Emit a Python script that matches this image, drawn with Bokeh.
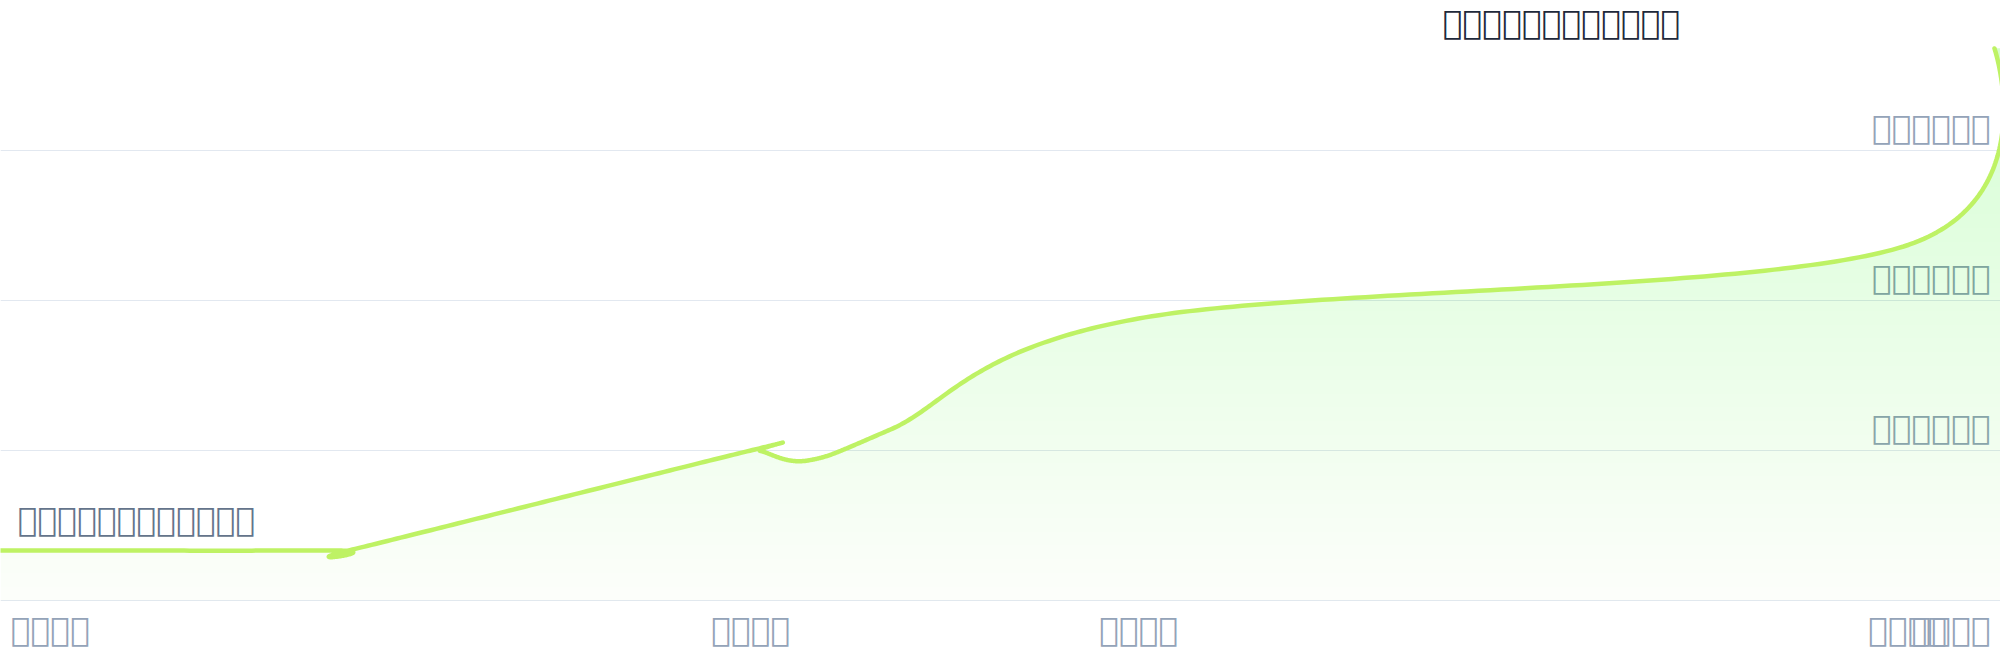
import numpy as np
from bokeh.plotting import figure
from bokeh.models import Range1d, Grid, FixedTicker
from bokeh.core.properties import value
from bokeh.embed import file_html
from bokeh.resources import INLINE

# ---------------- data ----------------
days = [0, 167.5, 176, 376, 380, 403.5, 445, 569, 951.5, 997]
values = [3.33, 3.33, 3.4, 10.03, 9.97, 9.33, 11.4, 18.8, 23.6, 36.8]

T = "\ue000"
x_tick_days = [0, 375, 569, 953.5, 997.5]
x_tick_labels = [T * 4, T * 4, T * 4, T * 4, T * 4]
y_ticks = [10, 20, 30]
y_tick_labels = [T * 6, T * 6, T * 6]
title_text = T * 12
note_text = T * 12

# ---------------- layout constants ----------------
W, H = 2000, 660
X0, X1 = 0, 1000
Y0, Y1 = -4, 40
PXX = W / (X1 - X0)
PXY = H / (Y1 - Y0)


def cardinal(xs, ys, n=80):
    """Cardinal spline (tension 0), as d3.curveCardinal draws it."""
    P = np.column_stack([xs, ys]).astype(float)
    k = 1.0 / 6.0
    m = len(P)
    out = [P[0]]
    for i in range(m - 1):
        p1, p2 = P[i], P[i + 1]
        c1 = p1.copy() if i == 0 else p1 + k * (p2 - P[i - 1])
        c2 = p2 + k * (p1 - P[i + 2]) if i + 2 < m else p2.copy()
        t = np.linspace(0, 1, n)[1:, None]
        seg = (1 - t) ** 3 * p1 + 3 * (1 - t) ** 2 * t * c1 + 3 * (1 - t) * t ** 2 * c2 + t ** 3 * p2
        out.extend(seg)
    out = np.array(out)
    return out[:, 0], out[:, 1]


cx, cy = cardinal(days, values)
# fill reaches the right edge of the plot
fx = np.append(cx, X1)
fy = np.append(cy, cy[-1])

p = figure(width=W, height=H, x_range=Range1d(X0, X1), y_range=Range1d(Y0, Y1),
           x_axis_type=None, y_axis_type=None, toolbar_location=None,
           output_backend="svg", min_border=0, outline_line_color=None,
           background_fill_color="white", border_fill_color="white")
p.grid.visible = False
p.add_layout(Grid(dimension=1, ticker=FixedTicker(ticks=[0] + y_ticks),
                  grid_line_color="#e2e8f0", grid_line_width=1.2))

FONT = value("DejaVu Sans")
FS = "33px"

# y tick labels (drawn beneath the area fill)
p.text(x=[X1 - 10 / PXX] * len(y_ticks), y=[v + 23 / PXY for v in y_ticks], text=y_tick_labels,
       text_align="right", text_baseline="alphabetic", text_font=FONT,
       text_font_size=FS, text_color="#94a3b8")

# vertical gradient area (stacked translucent bands)
fill = "#b5e86a"
N = 40
levels = np.linspace(0, max(values), N + 1)[:-1]
prev = 0.0
for lv in levels:
    target = 0.035 + 0.008 * lv
    a = 1 - (1 - target) / (1 - prev)
    prev = target
    p.varea(x=fx, y1=np.full_like(fx, lv), y2=np.maximum(fy, lv),
            fill_color=fill, fill_alpha=float(a))

p.line(cx, cy, line_color="#bef264", line_width=4.5, line_cap="round", line_join="round")

# x tick labels
aligns = ["left", "center", "center", "center", "right"]
for d, lab, al in zip(x_tick_days, x_tick_labels, aligns):
    if al == "left":
        xx = d + 10 / PXX
    elif al == "right":
        xx = X1 - 10 / PXX
    else:
        xx = d
    p.text(x=[xx], y=[-29 / PXY], text=[lab], text_align=al, text_baseline="alphabetic",
           text_font=FONT, text_font_size=FS, text_color="#94a3b8")

# annotations
p.text(x=[days[0] + 17 / PXX], y=[values[0] + 31 / PXY], text=[note_text], text_align="left",
       text_baseline="alphabetic", text_font=FONT, text_font_size=FS, text_color="#64748b")
p.text(x=[1442 / PXX], y=[Y1 - 22 / PXY], text=[title_text], text_align="left",
       text_baseline="alphabetic", text_font=FONT, text_font_size=FS,
       text_font_style="bold", text_color="#1e293b")

html = file_html(p, INLINE)
html = html.replace("<body>", '<body style="margin:0;overflow:hidden">')
open("out.html", "w", encoding="utf-8").write(html)
